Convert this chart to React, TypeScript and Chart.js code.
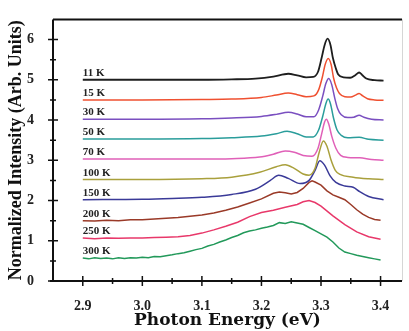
import React, { useEffect, useRef } from "react";
import { Chart, registerables } from "chart.js";

Chart.register(...registerables);

type P = [number, number];

const temperatures = ["11 K", "15 K", "30 K", "50 K", "70 K", "100 K", "150 K", "200 K", "250 K", "300 K"];
const lineColors = ["#1e1e1e", "#ef5030", "#7a4fc0", "#2a9d9b", "#e060b8", "#a9a03c", "#3a3a98", "#9a3a28", "#e8386a", "#22995a"];

const k11: P[] = [[2.9,5.0],[3.0,5.0],[3.1,5.0],[3.15,5.01],[3.19,5.03],[3.22,5.08],[3.245,5.15],[3.26,5.11],[3.275,5.06],[3.287,5.07],[3.295,5.2],[3.301,5.54],[3.306,5.86],[3.311,6.02],[3.316,5.86],[3.32,5.54],[3.325,5.28],[3.329,5.13],[3.338,5.06],[3.349,5.05],[3.358,5.12],[3.364,5.18],[3.369,5.12],[3.376,5.03],[3.39,4.99],[3.405,4.98]];
const k15: P[] = [[2.9,4.5],[3.0,4.5],[3.1,4.51],[3.15,4.52],[3.2,4.56],[3.225,4.62],[3.245,4.67],[3.26,4.63],[3.275,4.58],[3.288,4.6],[3.296,4.75],[3.302,5.05],[3.307,5.38],[3.312,5.53],[3.317,5.38],[3.321,5.05],[3.326,4.8],[3.331,4.66],[3.34,4.58],[3.35,4.57],[3.358,4.62],[3.364,4.66],[3.37,4.6],[3.378,4.53],[3.39,4.5],[3.405,4.49]];
const k30: P[] = [[2.9,4.02],[3.0,4.02],[3.1,4.03],[3.15,4.05],[3.2,4.09],[3.225,4.14],[3.245,4.19],[3.26,4.15],[3.275,4.08],[3.288,4.08],[3.296,4.25],[3.303,4.6],[3.308,4.9],[3.313,5.03],[3.318,4.88],[3.323,4.55],[3.328,4.28],[3.334,4.13],[3.345,4.06],[3.355,4.07],[3.364,4.12],[3.372,4.07],[3.385,4.02],[3.405,4.0]];
const k50: P[] = [[2.9,3.53],[3.0,3.53],[3.1,3.54],[3.15,3.56],[3.2,3.6],[3.225,3.66],[3.243,3.72],[3.26,3.66],[3.275,3.58],[3.287,3.58],[3.296,3.75],[3.303,4.1],[3.308,4.4],[3.312,4.52],[3.316,4.4],[3.321,4.05],[3.327,3.75],[3.334,3.62],[3.345,3.56],[3.364,3.57],[3.38,3.52],[3.405,3.5]];
const k70: P[] = [[2.9,3.03],[3.0,3.03],[3.1,3.03],[3.15,3.04],[3.197,3.08],[3.22,3.15],[3.24,3.23],[3.255,3.2],[3.27,3.12],[3.285,3.1],[3.295,3.3],[3.301,3.65],[3.306,3.95],[3.309,4.02],[3.313,3.9],[3.318,3.6],[3.325,3.3],[3.333,3.12],[3.345,3.07],[3.365,3.06],[3.385,3.02],[3.405,3.0]];
const k100: P[] = [[2.9,2.52],[3.0,2.52],[3.1,2.54],[3.15,2.58],[3.197,2.7],[3.225,2.84],[3.24,2.89],[3.255,2.8],[3.27,2.66],[3.28,2.63],[3.29,2.8],[3.297,3.2],[3.304,3.48],[3.31,3.35],[3.317,3.0],[3.324,2.75],[3.332,2.65],[3.354,2.58],[3.38,2.54],[3.405,2.52]];
const k150: P[] = [[2.9,2.02],[3.0,2.03],[3.05,2.05],[3.1,2.08],[3.15,2.15],[3.19,2.28],[3.215,2.5],[3.229,2.63],[3.245,2.55],[3.265,2.42],[3.28,2.5],[3.29,2.75],[3.298,2.99],[3.306,2.88],[3.315,2.62],[3.325,2.45],[3.34,2.36],[3.354,2.33],[3.365,2.22],[3.38,2.1],[3.405,2.02]];
const k200: P[] = [[2.9,1.5],[2.92,1.49],[2.94,1.51],[2.96,1.5],[2.98,1.52],[3.0,1.52],[3.02,1.54],[3.04,1.56],[3.06,1.58],[3.08,1.61],[3.1,1.64],[3.12,1.69],[3.14,1.76],[3.16,1.84],[3.18,1.94],[3.2,2.04],[3.22,2.18],[3.23,2.21],[3.24,2.19],[3.25,2.16],[3.26,2.2],[3.27,2.3],[3.28,2.45],[3.285,2.49],[3.29,2.46],[3.3,2.38],[3.31,2.24],[3.32,2.14],[3.33,2.08],[3.34,2.02],[3.35,1.9],[3.36,1.77],[3.37,1.66],[3.38,1.58],[3.39,1.53],[3.4,1.51]];
const k250: P[] = [[2.9,1.07],[2.92,1.05],[2.94,1.07],[2.96,1.06],[2.98,1.07],[3.0,1.07],[3.02,1.08],[3.04,1.09],[3.06,1.1],[3.08,1.13],[3.1,1.19],[3.12,1.27],[3.14,1.36],[3.16,1.46],[3.18,1.6],[3.2,1.7],[3.22,1.76],[3.24,1.83],[3.26,1.9],[3.27,1.97],[3.28,2.0],[3.29,1.95],[3.3,1.86],[3.32,1.62],[3.34,1.4],[3.36,1.22],[3.38,1.1],[3.4,1.04]];
const k300: P[] = [[2.9,0.57],[2.91,0.55],[2.92,0.58],[2.93,0.56],[2.94,0.57],[2.95,0.55],[2.96,0.58],[2.97,0.56],[2.98,0.58],[2.99,0.57],[3.0,0.59],[3.01,0.58],[3.02,0.61],[3.03,0.6],[3.04,0.63],[3.05,0.65],[3.06,0.68],[3.07,0.7],[3.08,0.74],[3.09,0.78],[3.1,0.81],[3.11,0.87],[3.12,0.91],[3.13,0.97],[3.14,1.02],[3.15,1.08],[3.16,1.13],[3.17,1.2],[3.18,1.24],[3.19,1.27],[3.2,1.31],[3.21,1.34],[3.22,1.38],[3.23,1.45],[3.24,1.43],[3.25,1.47],[3.26,1.44],[3.27,1.41],[3.28,1.33],[3.29,1.25],[3.3,1.17],[3.31,1.09],[3.32,0.97],[3.33,0.82],[3.34,0.72],[3.35,0.68],[3.36,0.64],[3.37,0.61],[3.38,0.58],[3.39,0.55],[3.4,0.52]];

const spectra: P[][] = [k11, k15, k30, k50, k70, k100, k150, k200, k250, k300];

const xMajorTicks = [2.9, 3.0, 3.1, 3.2, 3.3, 3.4];
const xMinorTicks = [2.95, 3.05, 3.15, 3.25, 3.35];
const yMajorTicks = [0, 1, 2, 3, 4, 5, 6];
const yMinorTicks = [0.5, 1.5, 2.5, 3.5, 4.5, 5.5];

const X_MIN = 2.85;
const X_MAX = 3.436;
const Y_MIN = 0;
const Y_MAX = 6.5;

function drawFrame(chart: any) {
  const { ctx, chartArea: a, scales } = chart;
  const x = scales.x;
  const y = scales.y;
  ctx.save();
  ctx.strokeStyle = "#d6d6d6";
  ctx.lineWidth = 1;
  ctx.beginPath();
  ctx.moveTo(a.right + 0.5, a.top);
  ctx.lineTo(a.right + 0.5, a.bottom);
  ctx.stroke();

  ctx.strokeStyle = "#111111";
  ctx.lineWidth = 2;
  ctx.beginPath();
  ctx.moveTo(a.left, a.top);
  ctx.lineTo(a.right, a.top);
  ctx.moveTo(a.left, a.top);
  ctx.lineTo(a.left, a.bottom);
  ctx.moveTo(a.left - 3, a.bottom);
  ctx.lineTo(a.right, a.bottom);
  ctx.stroke();

  ctx.lineWidth = 1.5;
  ctx.beginPath();
  xMajorTicks.forEach((v) => {
    const px = x.getPixelForValue(v);
    ctx.moveTo(px, a.bottom - 5);
    ctx.lineTo(px, a.bottom + 5);
  });
  xMinorTicks.forEach((v) => {
    const px = x.getPixelForValue(v);
    ctx.moveTo(px, a.bottom - 3);
    ctx.lineTo(px, a.bottom + 3);
  });
  yMajorTicks.forEach((v) => {
    const py = y.getPixelForValue(v);
    ctx.moveTo(a.left - 5, py);
    ctx.lineTo(a.left + 5, py);
  });
  yMinorTicks.forEach((v) => {
    const py = y.getPixelForValue(v);
    ctx.moveTo(a.left - 3, py);
    ctx.lineTo(a.left + 3, py);
  });
  ctx.stroke();
  ctx.restore();
}

function drawCurveLabels(chart: any) {
  const { ctx, scales } = chart;
  const x = scales.x;
  const y = scales.y;
  ctx.save();
  ctx.font = 'bold 11px "Liberation Serif"';
  ctx.fillStyle = "#222";
  ctx.textAlign = "left";
  ctx.textBaseline = "alphabetic";
  chart.data.datasets.forEach((ds: any) => {
    const first = ds.data[0];
    const px = x.getPixelForValue(first.x);
    const py = y.getPixelForValue(first.y) - 4;
    ctx.fillText(ds.label, px, py);
  });
  ctx.restore();
}

const framePlugin = {
  id: "pecFrame",
  afterDatasetsDraw(chart: any) {
    drawFrame(chart);
    drawCurveLabels(chart);
  },
};

export default function App() {
  const ref = useRef<HTMLCanvasElement | null>(null);
  useEffect(() => {
    if (!ref.current) return;
    const tickFont = { family: '"Liberation Serif"', weight: "bold" as const, size: 14 };
    const chart = new Chart(ref.current, {
      type: "line",
      data: {
        datasets: spectra.map((s, i) => ({
          label: temperatures[i],
          data: s.map(([ex, iy]) => ({ x: ex, y: iy })),
          borderColor: lineColors[i],
          borderWidth: i === 0 ? 1.8 : 1.5,
          pointRadius: 0,
          fill: false,
          tension: i >= 7 ? 0 : 0.4,
          cubicInterpolationMode: i >= 7 ? "default" : "monotone",
        })),
      },
      options: {
        responsive: false,
        animation: false,
        layout: { padding: { left: 0, right: 7, top: 17, bottom: 0 } },
        plugins: { legend: { display: false }, tooltip: { enabled: false } },
        scales: {
          x: {
            type: "linear",
            min: X_MIN,
            max: X_MAX,
            grid: { display: false },
            border: { display: false },
            afterBuildTicks: (s: any) => {
              s.ticks = xMajorTicks.map((v) => ({ value: v }));
            },
            afterFit: (s: any) => {
              s.height = 50;
            },
            ticks: {
              padding: 9,
              color: "#222",
              font: tickFont,
              maxRotation: 0,
              autoSkip: false,
              callback: (v: any) => Number(v).toFixed(1),
            },
            title: {
              display: true,
              text: "Photon Energy (eV)",
              color: "#111",
              font: { family: '"DejaVu Serif"', weight: "bold", size: 17 },
              padding: { top: 0, bottom: 0 },
            },
          },
          y: {
            type: "linear",
            min: Y_MIN,
            max: Y_MAX,
            grid: { display: false },
            border: { display: false },
            afterBuildTicks: (s: any) => {
              s.ticks = yMajorTicks.map((v) => ({ value: v }));
            },
            afterFit: (s: any) => {
              s.width = 53;
            },
            ticks: {
              padding: 11,
              color: "#222",
              font: tickFont,
              autoSkip: false,
              callback: (v: any) => String(v),
            },
            title: {
              display: true,
              text: "Normalized Intensity (Arb. Units)",
              color: "#111",
              font: { family: '"Liberation Serif"', weight: "bold", size: 18 },
              padding: { top: 6, bottom: 0 },
            },
          },
        },
      } as any,
      plugins: [framePlugin],
    });
    return () => chart.destroy();
  }, []);
  return (
    <div style={{ position: "fixed", left: 0, top: 0, width: 409, height: 331, background: "#fff" }}>
      <canvas ref={ref} width={409} height={331} style={{ display: "block" }} />
    </div>
  );
}
